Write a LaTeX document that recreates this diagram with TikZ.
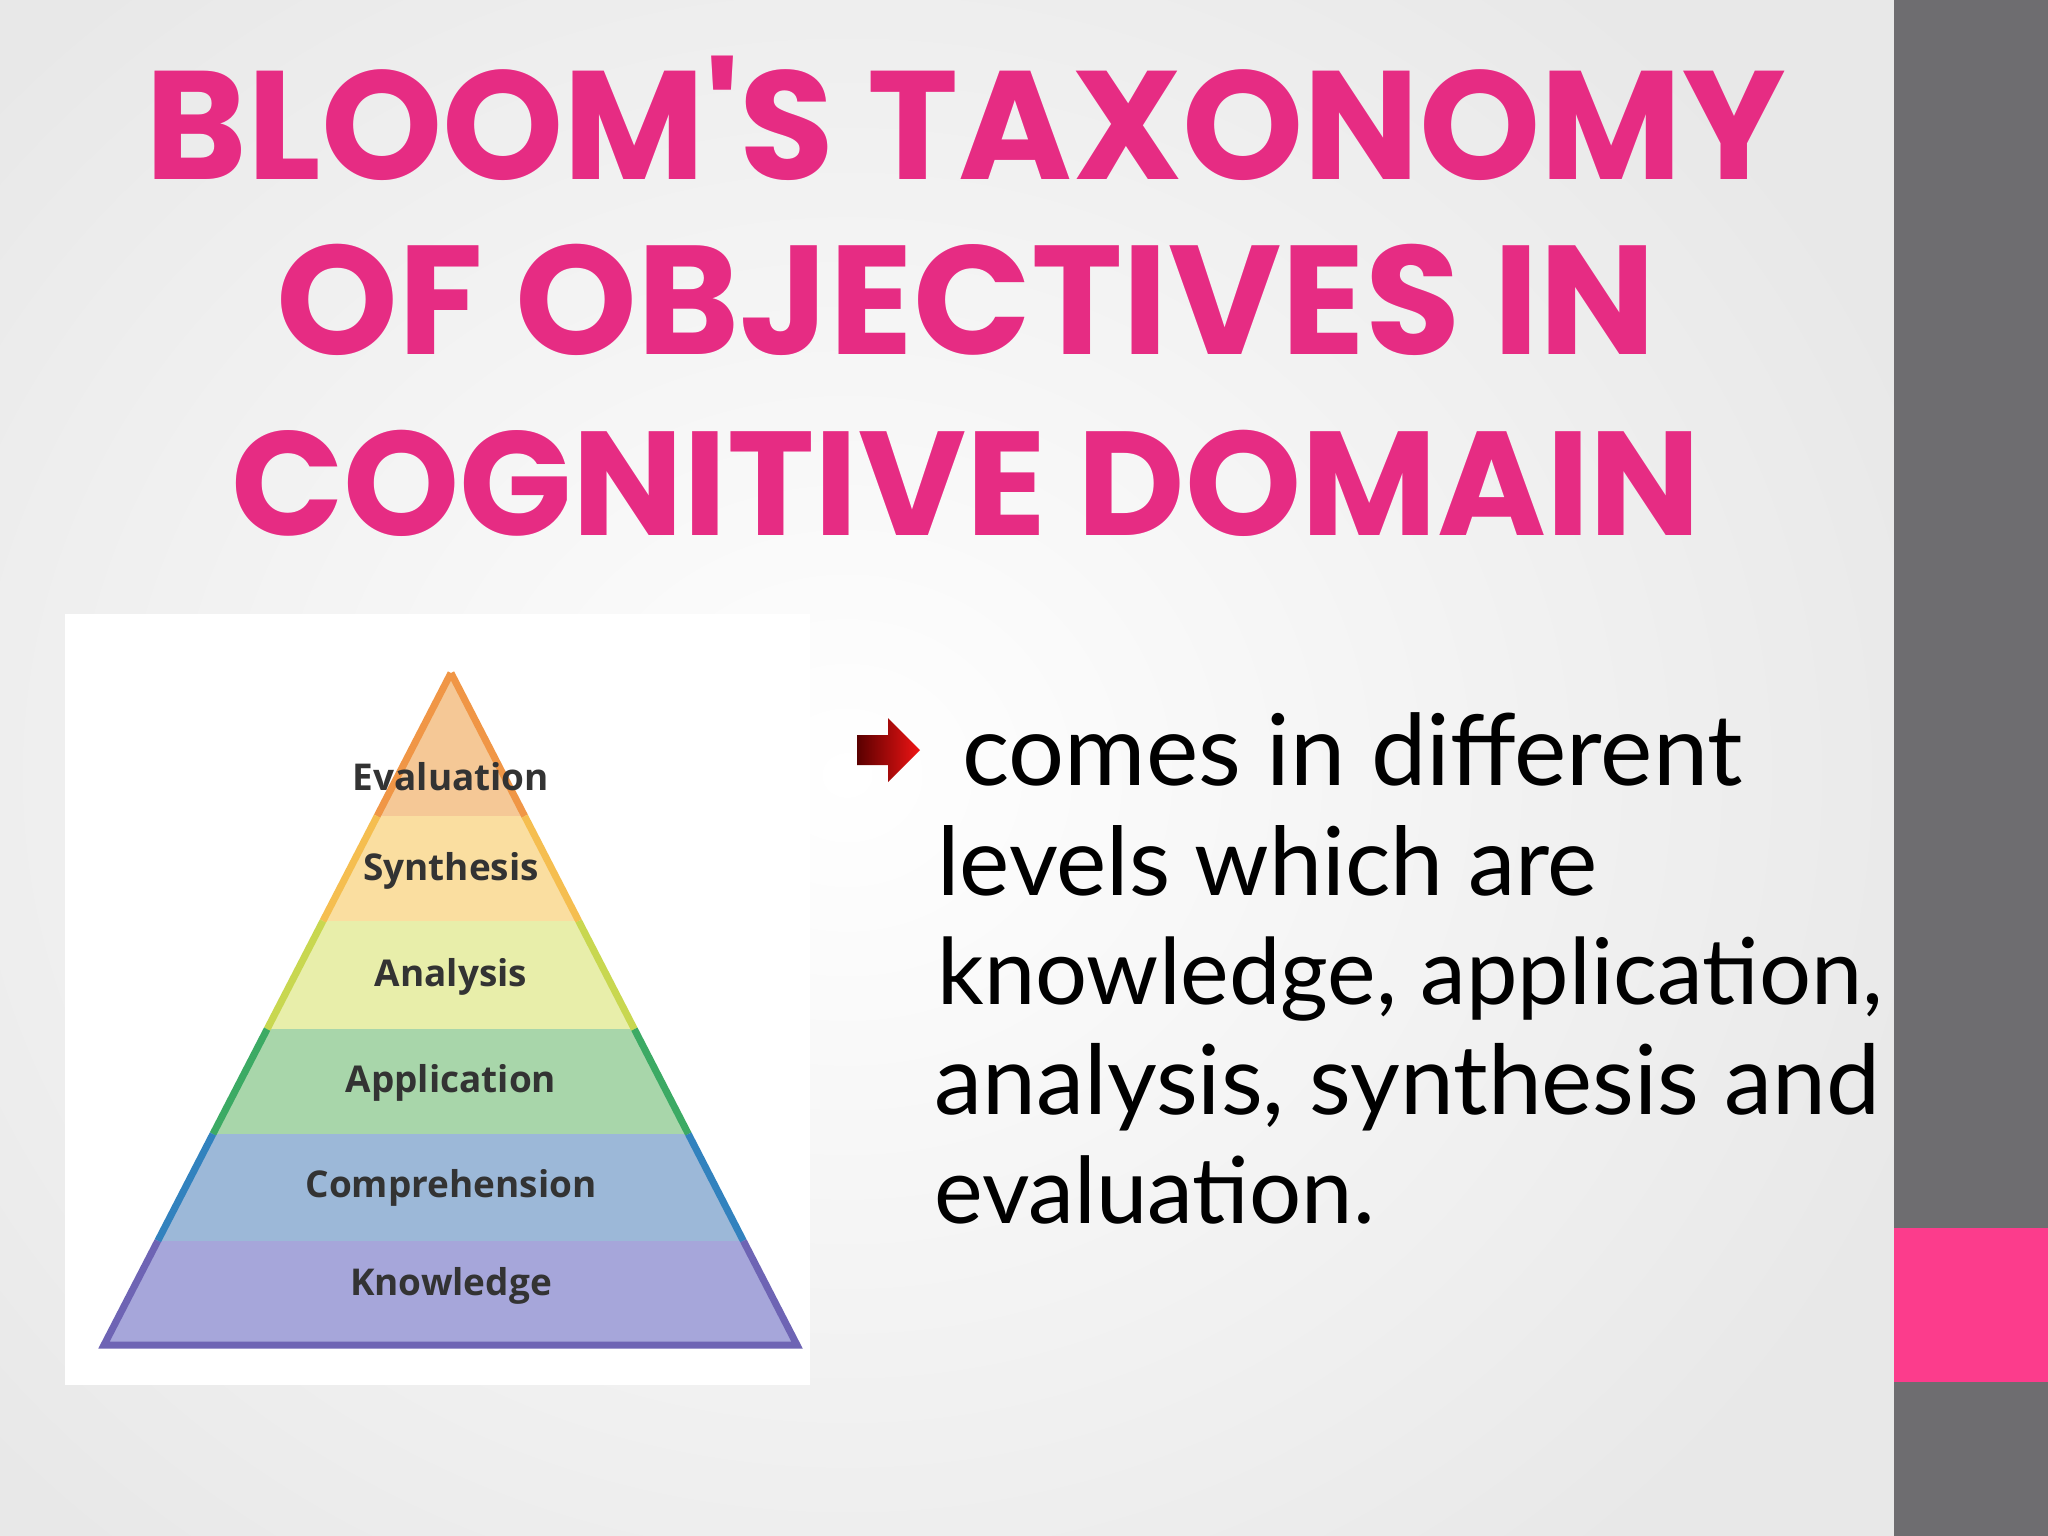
\documentclass[tikz,border=0pt]{standalone}
\usepackage{fontspec}
\usepackage{graphicx}
\usepackage[outline]{contour}
\usetikzlibrary{calc}
\setmainfont{Open Sans}
\newfontfamily\titlefont{Poppins}
\newfontfamily\bodyfont{Lato}
\contourlength{2.5pt}
\definecolor{tpink}{HTML}{E62C83}
\definecolor{tedge}{HTML}{F9B6D6}
\definecolor{stripgray}{HTML}{6E6D70}
\definecolor{strippink}{HTML}{FC3C8C}
\tikzset{
 band/.style={draw=none},
 lbl/.style={font=\fontsize{10.5}{12}\selectfont\bfseries, text=black!80},
 ttl/.style={font=\titlefont\bfseries, text=tpink},
 bl/.style={anchor=base west, font=\bodyfont}
}
\newcommand{\ttline}[2]{\resizebox{#1}{!}{\contour{tedge}{\textcolor{tpink}{#2}}}}
\newcommand{\bline}[2]{\resizebox{#1}{!}{#2}}
\begin{document}
\begin{tikzpicture}[x=0.01cm,y=-0.01cm]
\useasboundingbox (0,0) rectangle (2048,1536);
\begin{scope}
\clip (0,0) rectangle (1894,1536);
\shade[inner color=white, outer color=black!9] (-300,-250) rectangle (1994,1800);
\end{scope}
\fill[stripgray] (1894,0) rectangle (2048,1536);
\fill[strippink] (1894,1228) rectangle (2048,1382);
% title
\node[ttl] (t1) at (966,118) {\ttline{16.39cm}{BLOOM'S TAXONOMY}};
\node[ttl] (t2) at (966,300) {\ttline{13.78cm}{OF OBJECTIVES IN}};
\node[ttl] (t3) at (966,483) {\ttline{14.69cm}{COGNITIVE DOMAIN}};
% pyramid
\fill[white] (65,614) rectangle (810,1385);
\begin{scope}
\clip (451,673) -- (797,1345) -- (104,1345) -- cycle;
\fill[band, fill={rgb,255:red,245;green,200;blue,150}] (0,600) rectangle (900,816);
\fill[band, fill={rgb,255:red,250;green,222;blue,160}] (0,816) rectangle (900,921);
\fill[band, fill={rgb,255:red,232;green,238;blue,170}] (0,921) rectangle (900,1029);
\fill[band, fill={rgb,255:red,168;green,214;blue,170}] (0,1029) rectangle (900,1134);
\fill[band, fill={rgb,255:red,156;green,184;blue,216}] (0,1134) rectangle (900,1241);
\fill[band, fill={rgb,255:red,166;green,166;blue,218}] (0,1241) rectangle (900,1350);
\end{scope}
\coordinate (apex) at (451,673);
\coordinate (bl) at (104,1345);
\coordinate (br) at (797,1345);
\begin{scope}[line width=0.07cm]
\draw[color={rgb,255:red,240;green,150;blue,70}] (apex) -- ($(apex)!0.213!(bl)$) (apex) -- ($(apex)!0.213!(br)$);
\draw[color={rgb,255:red,245;green,190;blue,80}] ($(apex)!0.213!(bl)$) -- ($(apex)!0.369!(bl)$) ($(apex)!0.213!(br)$) -- ($(apex)!0.369!(br)$);
\draw[color={rgb,255:red,200;green,215;blue,80}] ($(apex)!0.369!(bl)$) -- ($(apex)!0.53!(bl)$) ($(apex)!0.369!(br)$) -- ($(apex)!0.53!(br)$);
\draw[color={rgb,255:red,60;green,170;blue,100}] ($(apex)!0.53!(bl)$) -- ($(apex)!0.686!(bl)$) ($(apex)!0.53!(br)$) -- ($(apex)!0.686!(br)$);
\draw[color={rgb,255:red,50;green,130;blue,190}] ($(apex)!0.686!(bl)$) -- ($(apex)!0.845!(bl)$) ($(apex)!0.686!(br)$) -- ($(apex)!0.845!(br)$);
\draw[color={rgb,255:red,110;green,100;blue,180}] ($(apex)!0.845!(bl)$) -- (bl) -- (br) -- ($(apex)!0.845!(br)$);
\end{scope}
\node[lbl] (ev) at (451,777) {Evaluation};
\node[lbl] (sy) at (451,871) {Synthesis};
\node[lbl] (an) at (451,977) {Analysis};
\node[lbl] (ap) at (451,1083) {Application};
\node[lbl] (co) at (451,1188) {Comprehension};
\node[lbl] (kn) at (451,1286) {Knowledge};
% bullet arrow
\shade[left color={rgb,255:red,90;green,0;blue,0}, right color={rgb,255:red,240;green,20;blue,20}]
 (857,735) -- (888,735) -- (888,718) -- (920,750) -- (888,782) -- (888,765) -- (857,765) -- cycle;
% body text
\node[bl] (l1) at (950,785) {\bline{7.8cm}{comes in different}};
\node[bl] (l2) at (925,895) {\bline{6.6cm}{levels which are}};
\node[bl] (l3) at (925,1004) {\bline{9.45cm}{knowledge, application,}};
\node[bl] (l4) at (922,1114) {\bline{9.45cm}{analysis, synthesis and}};
\node[bl] (l5) at (922,1223) {\bline{4.4cm}{evaluation.}};
\end{tikzpicture}
\end{document}
